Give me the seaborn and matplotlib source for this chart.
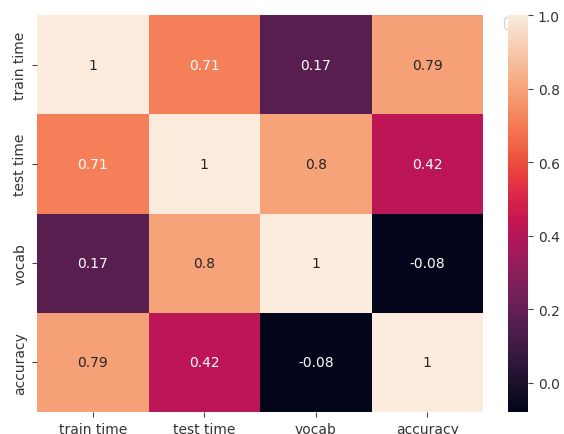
"""Correlation heatmap of model timing, vocab size and accuracy."""

import matplotlib

matplotlib.use("Agg")

import matplotlib.pyplot as plt
import pandas as pd
import seaborn as sns


features = ["train time", "test time", "vocab", "accuracy"]
train_time = [1.0, 0.71, 0.17, 0.79]
test_time = [0.71, 1.0, 0.8, 0.42]
vocab = [0.17, 0.8, 1.0, -0.08]
accuracy = [0.79, 0.42, -0.08, 1.0]

correlation = pd.DataFrame(
    [train_time, test_time, vocab, accuracy], index=features, columns=features
)

fig = plt.figure(figsize=(5.64, 4.35), dpi=100)
ax = fig.add_axes([0.0656, 0.0506, 0.791, 0.912])
cbar_ax = fig.add_axes([0.9007, 0.0506, 0.0355, 0.912])

sns.heatmap(correlation, annot=True, ax=ax, cbar_ax=cbar_ax)

# reference text is a touch softer than pure black
for axis in (ax, cbar_ax):
    axis.tick_params(colors="#444444", labelcolor="#333333")

# empty legend box peeking out from behind the colorbar
ax.legend(handles=[], loc="upper left", bbox_to_anchor=(1.032, 1.012))

fig.savefig("out.png", dpi=100)
plt.close()
